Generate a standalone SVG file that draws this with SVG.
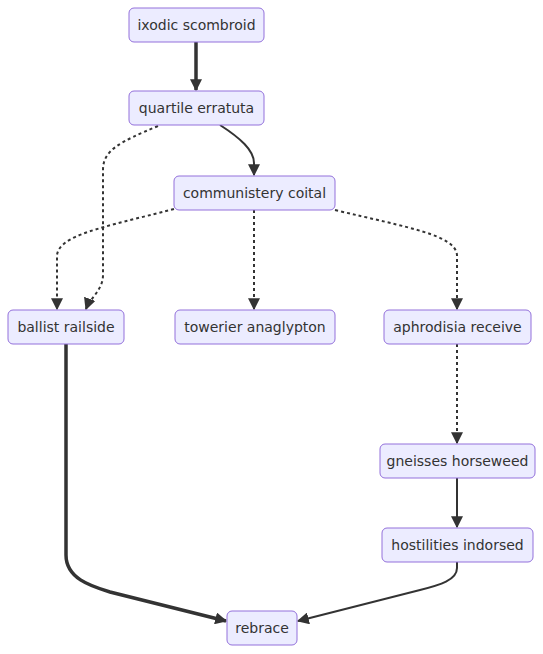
<svg xmlns="http://www.w3.org/2000/svg" width="543" height="654" viewBox="0 0 543 654">
<style>
.node rect{fill:#ECECFF;stroke:#9370DB;stroke-width:1}
.node text{font-family:"DejaVu Sans","Liberation Sans",sans-serif;font-size:14px;fill:#333;text-anchor:middle}
.edge{fill:none;stroke:#333;stroke-width:2}
.thick{stroke-width:3.5}
.dot{stroke-dasharray:3 3}
</style>
<defs>
<marker id="arr" viewBox="0 0 10 10" refX="9" refY="5" markerUnits="userSpaceOnUse" markerWidth="12" markerHeight="12" orient="auto">
<path d="M0,0 L10,5 L0,10 z" fill="#333"/>
</marker>
</defs>
<rect width="543" height="654" fill="#fff"/>
<g id="edges">
<path class="edge thick" d="M196,42 L196,90" marker-end="url(#arr)"/>
<path class="edge" d="M220,125 C240,138 254,150 254,163 L254,175" marker-end="url(#arr)"/>
<path class="edge dot" d="M158,126 C120,142 103,150 103,170 L103,275 C103,290 90,298 86,309" marker-end="url(#arr)"/>
<path class="edge dot" d="M174,209 C100,228 60,235 57,255 L57,309" marker-end="url(#arr)"/>
<path class="edge dot" d="M254,210 L254,309" marker-end="url(#arr)"/>
<path class="edge dot" d="M335,210 C410,228 455,235 457,255 L457,309" marker-end="url(#arr)"/>
<path class="edge dot" d="M457,344 L457,443" marker-end="url(#arr)"/>
<path class="edge" d="M457,478 L457,527" marker-end="url(#arr)"/>
<path class="edge thick" d="M66,344 L66,555 C66,578 90,586 110,592 L226,621" marker-end="url(#arr)"/>
<path class="edge" d="M457,562 L457,568 C457,580 440,585 420,590 L298,621" marker-end="url(#arr)"/>
</g>
<g id="n1" class="node"><rect x="129" y="8" width="135" height="34" rx="5"/><text x="196.5" y="30">ixodic scombroid</text></g>
<g id="n2" class="node"><rect x="129" y="91" width="135" height="34" rx="5"/><text x="196.5" y="113">quartile erratuta</text></g>
<g id="n3" class="node"><rect x="174" y="176" width="161" height="34" rx="5"/><text x="254.5" y="198">communistery coital</text></g>
<g id="n4" class="node"><rect x="8" y="310" width="116" height="34" rx="5"/><text x="66" y="332">ballist railside</text></g>
<g id="n5" class="node"><rect x="175" y="310" width="160" height="34" rx="5"/><text x="255" y="332">towerier anaglypton</text></g>
<g id="n6" class="node"><rect x="384" y="310" width="147" height="34" rx="5"/><text x="457.5" y="332">aphrodisia receive</text></g>
<g id="n7" class="node"><rect x="380" y="444" width="155" height="34" rx="5"/><text x="457.5" y="466">gneisses horseweed</text></g>
<g id="n8" class="node"><rect x="382" y="528" width="151" height="34" rx="5"/><text x="457.5" y="550">hostilities indorsed</text></g>
<g id="n9" class="node"><rect x="227" y="611" width="70" height="34" rx="5"/><text x="262" y="633">rebrace</text></g>
</svg>
